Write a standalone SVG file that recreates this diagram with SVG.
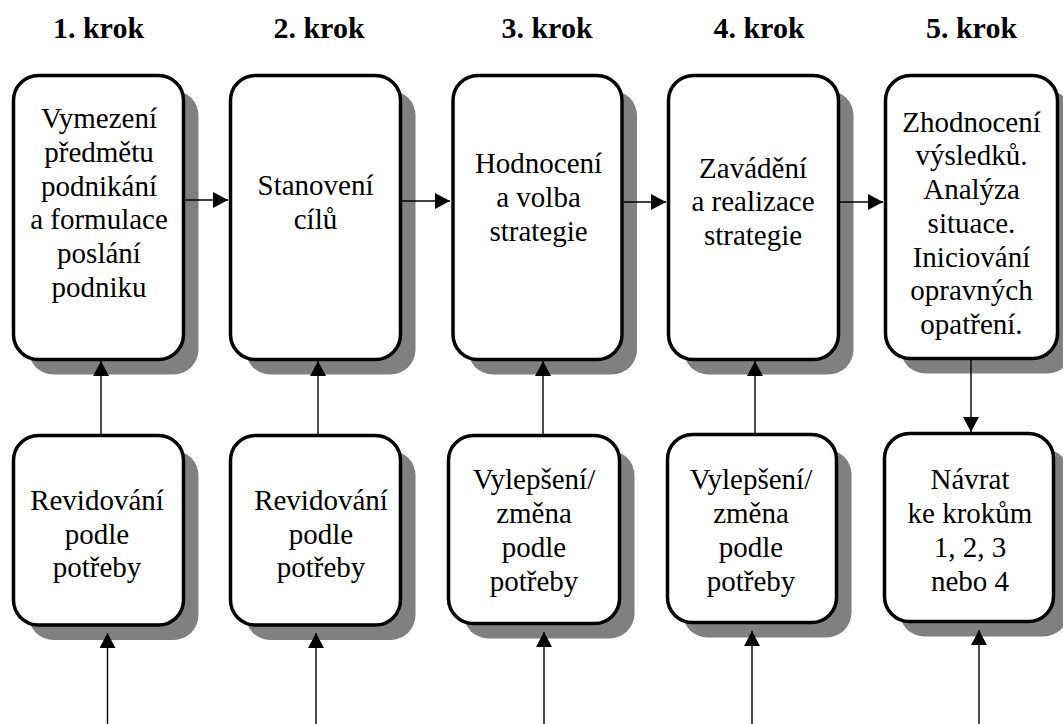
<svg xmlns="http://www.w3.org/2000/svg" width="1063" height="724" viewBox="0 0 1063 724">
<defs>
<style>
.box{fill:#fff;stroke:#000;stroke-width:3.5}
.sh{fill:#808080}
.t{font-family:'Liberation Serif',serif;font-size:29px;text-anchor:middle;fill:#000}
.h{font-family:'Liberation Serif',serif;font-size:30px;font-weight:bold;text-anchor:middle;fill:#000}
.ln{stroke:#000;stroke-width:1.4;fill:none}
</style>
<marker id="ah" markerWidth="15" markerHeight="16" refX="15" refY="8" orient="auto" markerUnits="userSpaceOnUse">
<path d="M0,0 L15,8 L0,16 Z" fill="#000"/>
</marker>
</defs>
<rect width="1063" height="724" fill="#fff"/>

<g id="titles">
<text class="h" x="98.5" y="38">1. krok</text>
<text class="h" x="319" y="38">2. krok</text>
<text class="h" x="547" y="38">3. krok</text>
<text class="h" x="759" y="38">4. krok</text>
<text class="h" x="971.5" y="38">5. krok</text>
</g>

<g id="step1">
<rect class="sh" x="28.5" y="90.5" width="170" height="284" rx="25"/>
<rect class="box" x="13.5" y="75.5" width="170" height="284" rx="25"/>
<text class="t" x="99" y="128.3">Vymezení</text>
<text class="t" x="99" y="162">předmětu</text>
<text class="t" x="99" y="195.7">podnikání</text>
<text class="t" x="99" y="229.4">a formulace</text>
<text class="t" x="99" y="263.1">poslání</text>
<text class="t" x="99" y="296.8">podniku</text>
</g>

<g id="step2">
<rect class="sh" x="245.5" y="90.5" width="170" height="284" rx="25"/>
<rect class="box" x="230.5" y="75.5" width="170" height="284" rx="25"/>
<text class="t" x="315.5" y="195">Stanovení</text>
<text class="t" x="315.5" y="228.7">cílů</text>
</g>

<g id="step3">
<rect class="sh" x="468" y="90.5" width="169" height="284" rx="25"/>
<rect class="box" x="453" y="75.5" width="169" height="284" rx="25"/>
<text class="t" x="538.5" y="173.3">Hodnocení</text>
<text class="t" x="538.5" y="207">a volba</text>
<text class="t" x="538.5" y="240.5">strategie</text>
</g>

<g id="step4">
<rect class="sh" x="683.5" y="90.5" width="170" height="284" rx="25"/>
<rect class="box" x="668.5" y="75.5" width="170" height="284" rx="25"/>
<text class="t" x="753" y="177.7">Zavádění</text>
<text class="t" x="753" y="211.3">a realizace</text>
<text class="t" x="753" y="245">strategie</text>
</g>

<g id="step5">
<rect class="sh" x="900.5" y="90.5" width="172" height="283" rx="25"/>
<rect class="box" x="885.5" y="75.5" width="172" height="283" rx="25"/>
<text class="t" x="971.5" y="131.7">Zhodnocení</text>
<text class="t" x="971.5" y="165.4">výsledků.</text>
<text class="t" x="971.5" y="199.1">Analýza</text>
<text class="t" x="971.5" y="232.8">situace.</text>
<text class="t" x="971.5" y="266.5">Iniciování</text>
<text class="t" x="971.5" y="300.2">opravných</text>
<text class="t" x="971.5" y="333.9">opatření.</text>
</g>

<g id="review1">
<rect class="sh" x="28.5" y="450.5" width="170" height="189.5" rx="25"/>
<rect class="box" x="13.5" y="435.5" width="170" height="189.5" rx="25"/>
<text class="t" x="97" y="510">Revidování</text>
<text class="t" x="97" y="543.7">podle</text>
<text class="t" x="97" y="577.4">potřeby</text>
</g>

<g id="review2">
<rect class="sh" x="245.5" y="450.5" width="170" height="189.5" rx="25"/>
<rect class="box" x="230.5" y="435.5" width="170" height="189.5" rx="25"/>
<text class="t" x="321" y="510">Revidování</text>
<text class="t" x="321" y="543.7">podle</text>
<text class="t" x="321" y="577.4">potřeby</text>
</g>

<g id="improve3">
<rect class="sh" x="463.5" y="450.5" width="171" height="188" rx="25"/>
<rect class="box" x="448.5" y="435.5" width="171" height="188" rx="25"/>
<text class="t" x="534" y="488.5">Vylepšení/</text>
<text class="t" x="534" y="522.5">změna</text>
<text class="t" x="534" y="556.5">podle</text>
<text class="t" x="534" y="590.5">potřeby</text>
</g>

<g id="improve4">
<rect class="sh" x="682.5" y="449.5" width="169" height="188" rx="25"/>
<rect class="box" x="667.5" y="434.5" width="169" height="188" rx="25"/>
<text class="t" x="751" y="488.5">Vylepšení/</text>
<text class="t" x="751" y="522.5">změna</text>
<text class="t" x="751" y="556.5">podle</text>
<text class="t" x="751" y="590.5">potřeby</text>
</g>

<g id="return5">
<rect class="sh" x="899.5" y="448.5" width="169" height="188" rx="25"/>
<rect class="box" x="884.5" y="433.5" width="169" height="188" rx="25"/>
<text class="t" x="970" y="488.5">Návrat</text>
<text class="t" x="970" y="522.5">ke krokům</text>
<text class="t" x="970" y="556.5">1, 2, 3</text>
<text class="t" x="970" y="590.5">nebo 4</text>
</g>

<g id="connectors">
<line class="ln" x1="185" y1="200" x2="228" y2="200" marker-end="url(#ah)"/>
<line class="ln" x1="402" y1="201" x2="450" y2="201" marker-end="url(#ah)"/>
<line class="ln" x1="624" y1="202" x2="666" y2="202" marker-end="url(#ah)"/>
<line class="ln" x1="840" y1="202" x2="883" y2="202" marker-end="url(#ah)"/>
<line class="ln" x1="101" y1="434" x2="101" y2="361" marker-end="url(#ah)"/>
<line class="ln" x1="318" y1="434" x2="318" y2="361" marker-end="url(#ah)"/>
<line class="ln" x1="543" y1="434" x2="543" y2="361" marker-end="url(#ah)"/>
<line class="ln" x1="755" y1="433" x2="755" y2="361" marker-end="url(#ah)"/>
<line class="ln" x1="971" y1="360" x2="971" y2="432" marker-end="url(#ah)"/>
<line class="ln" x1="107.5" y1="724" x2="107.5" y2="633" marker-end="url(#ah)"/>
<line class="ln" x1="316" y1="724" x2="316" y2="633" marker-end="url(#ah)"/>
<line class="ln" x1="544" y1="724" x2="544" y2="632" marker-end="url(#ah)"/>
<line class="ln" x1="752" y1="724" x2="752" y2="631" marker-end="url(#ah)"/>
<line class="ln" x1="979" y1="724" x2="979" y2="630" marker-end="url(#ah)"/>
</g>
</svg>
